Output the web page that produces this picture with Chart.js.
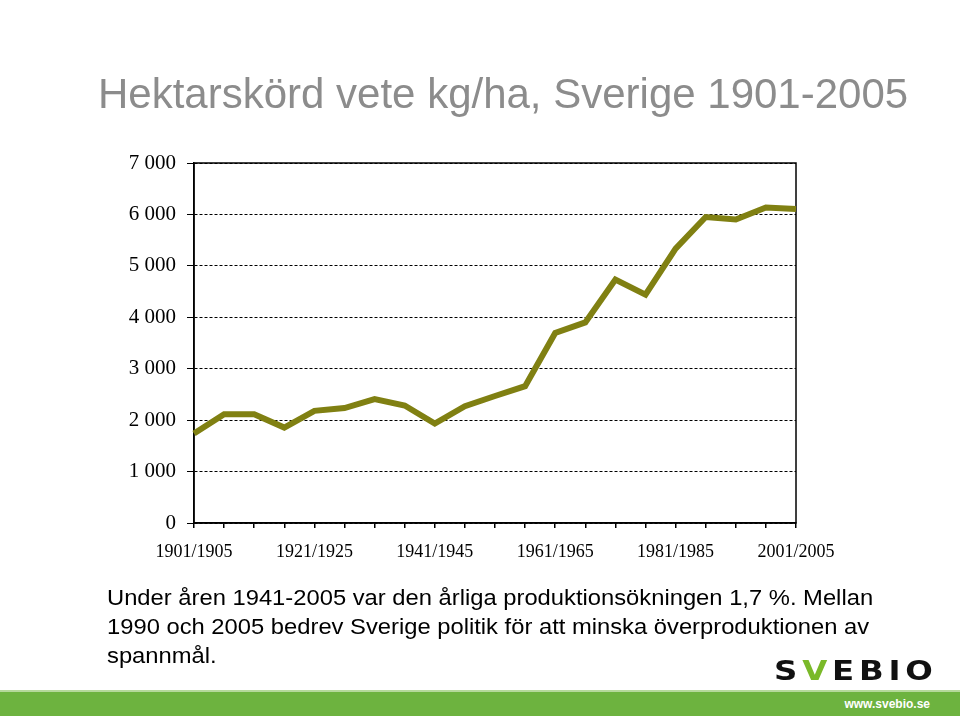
<!DOCTYPE html>
<html>
<head>
<meta charset="utf-8">
<script src="https://cdn.jsdelivr.net/npm/chart.js@4"></script>
<style>
    body { margin: 0; background: #fff; }
    #wrap { position: relative; width: 960px; height: 716px; overflow: hidden; }
    #chart { position: absolute; left: 0; top: 0; }
    .title { position: absolute; left: 98px; top: 73px; font: 42px "Liberation Sans", Arial, sans-serif; line-height: 42px; color: #8c8c8c; white-space: nowrap; }
    .note { position: absolute; left: 107px; top: 583px; font: 22px "Liberation Sans", Arial, sans-serif; line-height: 29px; color: #000; white-space: nowrap; transform: scaleX(1.08); transform-origin: left top; }
    .logo { position: absolute; left: 774px; top: 655px; font: 900 27px "DejaVu Sans", sans-serif; letter-spacing: 4px; color: #111; white-space: nowrap; transform: scaleX(1.2); transform-origin: left top; }
    .logo .v { color: #7ab929; }
    .bar { position: absolute; left: 0; top: 690px; width: 960px; height: 26px; background: #6db33f; border-top: 2px solid #b5d99a; box-sizing: border-box; }
    .url { position: absolute; right: 30px; top: 5px; font: bold 12px "Liberation Sans", Arial, sans-serif; color: #fff; }
</style>
</head>
<body>
<div id="wrap">
    <canvas id="chart" width="960" height="716"></canvas>
    <div class="title">Hektarskörd vete kg/ha, Sverige 1901-2005</div>
    <div class="note">Under åren 1941-2005 var den årliga produktionsökningen 1,7 %. Mellan<br>1990 och 2005 bedrev Sverige politik för att minska överproduktionen av<br>spannmål.</div>
    <div class="logo">S<span class="v">V</span>EBIO</div>
    <div class="bar"><span class="url">www.svebio.se</span></div>
</div>
<script>
const periods = [
    "1901/1905", "1906/1910", "1911/1915", "1916/1920", "1921/1925", "1926/1930", "1931/1935",
    "1936/1940", "1941/1945", "1946/1950", "1951/1955", "1956/1960", "1961/1965", "1966/1970",
    "1971/1975", "1976/1980", "1981/1985", "1986/1990", "1991/1995", "1996/2000", "2001/2005"
];
const yieldKgHa = [
    1740, 2115, 2115, 1855, 2180, 2235, 2410,
    2285, 1935, 2270, 2470, 2660, 3695, 3900,
    4735, 4440, 5335, 5950, 5900, 6135, 6105
];
const yTicks = [0, 1000, 2000, 3000, 4000, 5000, 6000, 7000];

const fmt = v => String(v).replace(/\B(?=(\d{3})+(?!\d))/g, " ");

// Plot frame (Excel style box round the plot area)
const framePlugin = {
    id: "frame",
    beforeDatasetsDraw(chart) {
        const { ctx, chartArea: a } = chart;
        ctx.save();
        ctx.strokeStyle = "#000";
        ctx.lineWidth = 1.5;
        ctx.strokeRect(a.left, a.top, a.right - a.left, a.bottom - a.top);
        ctx.restore();
    }
};

new Chart(document.getElementById("chart"), {
    type: "line",
    data: {
        labels: periods,
        datasets: [{
            data: yieldKgHa,
            borderColor: "#808012",
            borderWidth: 6,
            pointRadius: 0,
            tension: 0,
            clip: false
        }]
    },
    options: {
        responsive: false,
        animation: false,
        layout: { padding: { left: 0, top: 163, right: 164, bottom: 0 } },
        plugins: { legend: { display: false }, tooltip: { enabled: false } },
        scales: {
            x: {
                offset: false,
                afterFit: s => { s.height = 193; },
                grid: { drawOnChartArea: false, drawTicks: true, tickLength: 5, color: "#000", lineWidth: 1.5 },
                border: { color: "#000", width: 1.5 },
                ticks: {
                    autoSkip: false,
                    maxRotation: 0,
                    padding: 13,
                    color: "#000",
                    font: { family: "'Liberation Serif', 'Times New Roman', serif", size: 18 },
                    callback: function (val, i) { return i % 4 === 0 ? periods[i] : ""; }
                }
            },
            y: {
                min: 0,
                max: 7000,
                afterFit: s => { s.width = 194; },
                afterBuildTicks: s => { s.ticks = yTicks.map(v => ({ value: v })); },
                grid: { color: "#000", lineWidth: 1, tickLength: 7, tickBorderDash: [] },
                border: { color: "#000", width: 1.5, dash: [3, 2] },
                ticks: {
                    padding: 11,
                    color: "#000",
                    font: { family: "'Liberation Serif', 'Times New Roman', serif", size: 21 },
                    callback: v => fmt(v)
                }
            }
        }
    },
    plugins: [framePlugin]
});
</script>
</body>
</html>
